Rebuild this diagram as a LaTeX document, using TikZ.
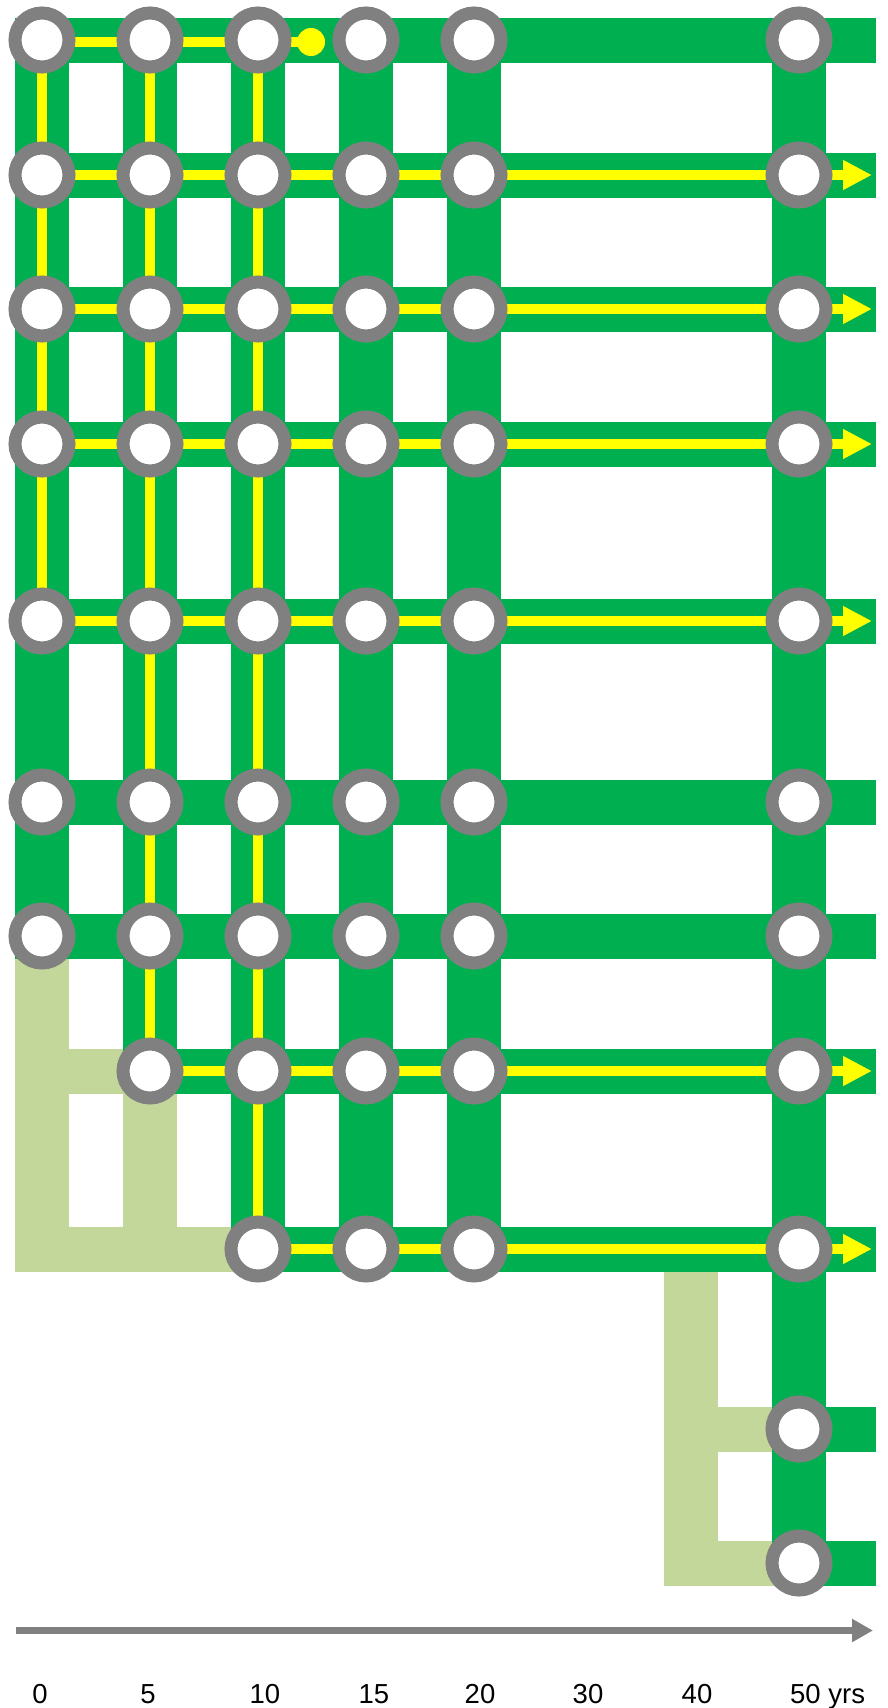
\documentclass[tikz,border=0pt]{standalone}
\usepackage{fontspec}
\setmainfont{Liberation Sans}
\usetikzlibrary{arrows.meta}
\definecolor{bargreen}{HTML}{00B050}
\definecolor{lightbar}{HTML}{C4D79B}
\definecolor{ringgray}{HTML}{808080}
\definecolor{lineyellow}{HTML}{FFFF00}
\pgfdeclarelayer{lightl}
\pgfdeclarelayer{greenl}
\pgfdeclarelayer{yellowl}
\pgfsetlayers{lightl,greenl,yellowl,main}
\begin{document}
\begin{tikzpicture}[x=1pt,y=-1pt,
  vbar/.style={draw=bargreen,line width=54pt},
  hbar/.style={draw=bargreen,line width=45pt},
  lvbar/.style={draw=lightbar,line width=54pt},
  lhbar/.style={draw=lightbar,line width=45pt},
  yline/.style={draw=lineyellow,line width=10pt},
  yarrow/.style={yline,-{Triangle[length=29pt,width=28pt]}},
  station/.style={circle,draw=ringgray,line width=13pt,fill=white,minimum size=54pt,inner sep=0pt,outer sep=0pt},
  ydot/.style={circle,fill=lineyellow,minimum size=28pt,inner sep=0pt},
  axisline/.style={draw=ringgray,line width=7pt,-{Triangle[length=21pt,width=22pt]}},
  lbl/.style={font=\fontsize{27.5}{30}\selectfont,inner sep=0pt,anchor=base}
]
\useasboundingbox (0,0) rectangle (887,1708);
% grid coordinates
\foreach \c/\x in {0/42,5/150,10/258,15/366,20/474,40/691,50/799}
  \coordinate (c\c) at (\x,0);
\foreach \r/\y in {1/40,2/175,3/309,4/444,5/621,6/802,7/936,8/1071,9/1249,10/1429,11/1563}
  \coordinate (r\r) at (0,\y);
\coordinate (top) at (0,17.5);
\coordinate (bot) at (0,1271.5);
\coordinate (leftx) at (15,0);
\coordinate (rightx) at (876,0);
\coordinate (light40) at (664,0);
\coordinate (tipx) at (872,0);

% stations
\foreach \r in {1,...,7}
  \foreach \c in {0,5,10,15,20,50}
    \node[station] (s-\r-\c) at (c\c |- r\r) {};
\foreach \c in {5,10,15,20,50}
  \node[station] (s-8-\c) at (c\c |- r8) {};
\foreach \c in {10,15,20,50}
  \node[station] (s-9-\c) at (c\c |- r9) {};
\node[station] (s-10-50) at (c50 |- r10) {};
\node[station] (s-11-50) at (c50 |- r11) {};
\node[ydot] (dot) at (311,42) {};

% light green bars
\begin{pgfonlayer}{lightl}
  \draw[lvbar] (s-7-0.center) -- (c0 |- bot);
  \draw[lhbar] (s-7-0.center |- r8) -- (s-8-5.center);
  \draw[lvbar] (s-8-5.center) -- (c5 |- bot);
  \draw[lhbar] (leftx |- r9) -- (s-9-10.center);
  \draw[lvbar] (c40 |- bot) -- (c40 |- r11);
  \draw[lhbar] (c40 |- r10) -- (s-10-50.center);
  \draw[lhbar] (light40 |- r11) -- (s-11-50.center);
\end{pgfonlayer}

% green bars
\begin{pgfonlayer}{greenl}
  \draw[vbar] (c0 |- top) -- (s-7-0.center);
  \draw[vbar] (c5 |- top) -- (s-8-5.center);
  \draw[vbar] (c10 |- top) -- (s-9-10.center);
  \draw[vbar] (c15 |- top) -- (s-9-15.center);
  \draw[vbar] (c20 |- top) -- (s-9-20.center);
  \draw[vbar] (c50 |- top) -- (s-11-50.center);
  \foreach \r in {1,...,7}
    \draw[hbar] (leftx |- r\r) -- (rightx |- r\r);
  \draw[hbar] (s-8-5.center) -- (rightx |- r8);
  \draw[hbar] (s-9-10.center) -- (rightx |- r9);
  \draw[hbar] (s-10-50.center) -- (rightx |- r10);
  \draw[hbar] (s-11-50.center) -- (rightx |- r11);
\end{pgfonlayer}

% yellow lines
\begin{pgfonlayer}{yellowl}
  \draw[yline] (s-1-0.center |- dot.center) -- (dot.center);
  \draw[yline] (s-1-0.center) -- (s-5-0.center);
  \draw[yline] (s-1-5.center) -- (s-8-5.center);
  \draw[yline] (s-1-10.center) -- (s-9-10.center);
  \foreach \r in {2,3,4,5}
    \draw[yarrow] (s-\r-0.center) -- (tipx |- r\r);
  \draw[yarrow] (s-8-5.center) -- (tipx |- r8);
  \draw[yarrow] (s-9-10.center) -- (tipx |- r9);
\end{pgfonlayer}

% time axis
\coordinate (axs) at (16,1630.5);
\coordinate (axe) at (873,1630.5);
\draw[axisline] (axs) -- (axe);

% labels
\node[lbl] (l0) at (40,1703) {0};
\node[lbl] (l5) at (148,1703) {5};
\node[lbl] (l10) at (265,1703) {10};
\node[lbl] (l15) at (374,1703) {15};
\node[lbl] (l20) at (480,1703) {20};
\node[lbl] (l30) at (588,1703) {30};
\node[lbl] (l40) at (697,1703) {40};
\node[lbl,anchor=base west] (l50) at (790,1703) {50 yrs};
\end{tikzpicture}
\end{document}
